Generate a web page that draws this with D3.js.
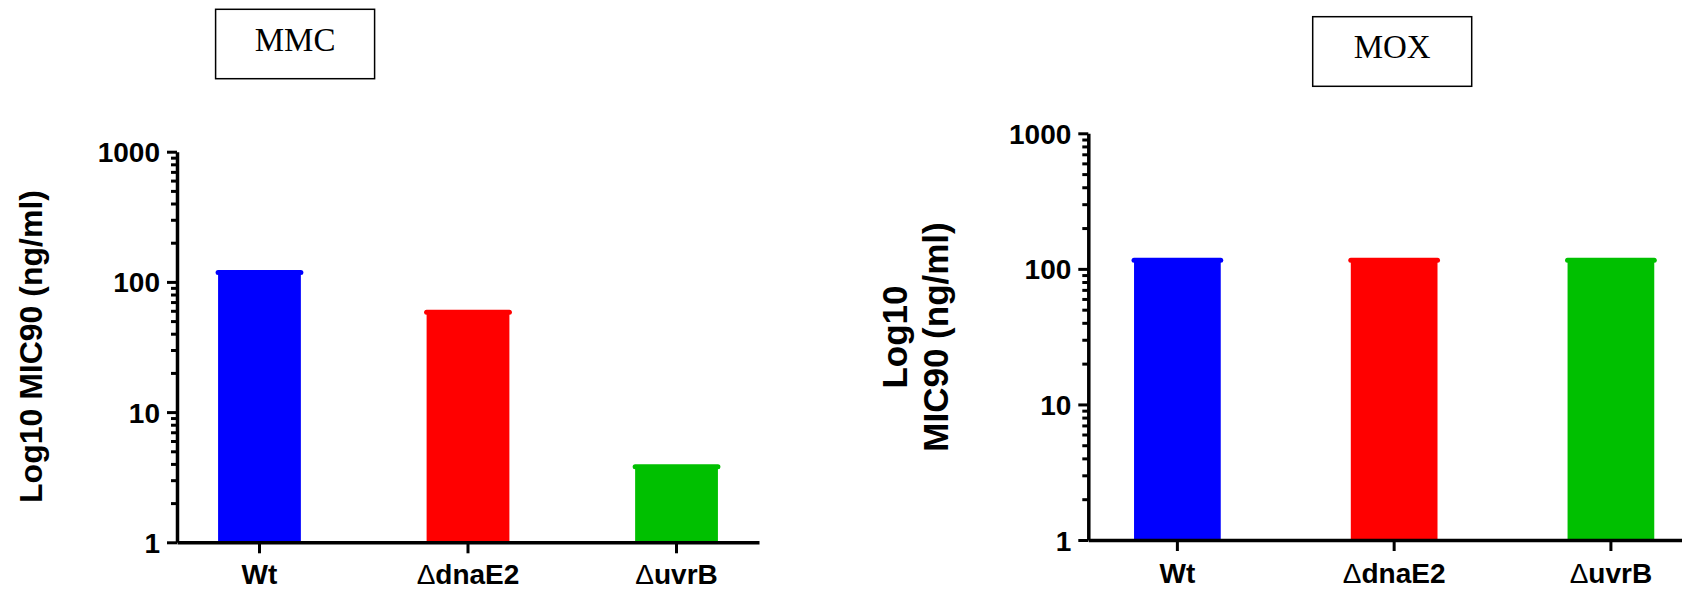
<!DOCTYPE html>
<html>
<head>
<meta charset="utf-8">
<script src="https://cdn.jsdelivr.net/npm/d3@7"></script>
<style>
  html, body { margin: 0; padding: 0; background: #fff; }
  svg { display: block; }
</style>
</head>
<body>
<svg id="chart" width="1682" height="591"></svg>
<script>
// ---- data ----
const categories = ["Wt", "dnaE2", "uvrB"];
const deltaPrefix = [false, true, true];
const mmcValues = [118, 58.5, 3.8];
const moxValues = [116, 116, 116];
const barColors = ["#0000ff", "#ff0000", "#00c000"];
const yTickValues = [1, 10, 100, 1000];
const panelTitles = ["MMC", "MOX"];
const yTitleLeft = ["Log10 MIC90 (ng/ml)"];
const yTitleRight = ["Log10", "MIC90 (ng/ml)"];

const SANS = "'Liberation Sans', Arial, sans-serif";
const SERIF = "'Liberation Serif', 'Times New Roman', serif";
const svg = d3.select("#chart");

function drawPanel(cfg) {
  const g = svg.append("g");
  const y = d3.scaleLog().domain([1, 1000]).range([cfg.yBottom, cfg.yTop]);
  const x = d3.scaleBand().domain(categories).range([cfg.xLeft, cfg.xRight])
    .paddingInner(cfg.pi).paddingOuter(cfg.po);

  // bars
  const bars = g.append("g");
  bars.selectAll("rect").data(cfg.values).join("rect")
    .attr("x", (d, i) => x(categories[i]))
    .attr("width", x.bandwidth())
    .attr("y", d => y(d))
    .attr("height", d => y(1) - y(d))
    .attr("fill", (d, i) => barColors[i]);
  bars.selectAll("line").data(cfg.values).join("line")
    .attr("x1", (d, i) => x(categories[i]))
    .attr("x2", (d, i) => x(categories[i]) + x.bandwidth())
    .attr("y1", d => y(d)).attr("y2", d => y(d))
    .attr("stroke", (d, i) => barColors[i])
    .attr("stroke-width", 5)
    .attr("stroke-linecap", "round");

  // minor y ticks
  const minor = y.ticks().filter(t => !yTickValues.includes(t));
  const gMinor = g.append("g").attr("transform", `translate(${cfg.xLeft},0)`)
    .call(d3.axisLeft(y).tickValues(minor).tickSize(6).tickSizeOuter(0).tickFormat(""));
  gMinor.select(".domain").remove();
  gMinor.selectAll(".tick line").attr("stroke", "#000").attr("stroke-width", 3);

  // major y ticks
  const gY = g.append("g").attr("transform", `translate(${cfg.xLeft},0)`)
    .call(d3.axisLeft(y).tickValues(yTickValues).tickSize(10).tickSizeOuter(0)
      .tickPadding(7).tickFormat(d3.format("d")));
  gY.select(".domain").attr("stroke", "#000").attr("stroke-width", 3.5);
  gY.selectAll(".tick line").attr("stroke", "#000").attr("stroke-width", 3);
  gY.selectAll(".tick text")
    .style("font-family", SANS)
    .style("font-size", "28px").style("font-weight", "bold").attr("fill", "#000")
    .attr("dy", "0.36em");

  // x axis
  const gX = g.append("g").attr("transform", `translate(0,${cfg.yBottom})`)
    .call(d3.axisBottom(x).tickSize(11).tickSizeOuter(0).tickFormat(""));
  gX.select(".domain").attr("stroke", "#000").attr("stroke-width", 3.5);
  gX.selectAll(".tick line").attr("stroke", "#000").attr("stroke-width", 3);

  // x labels
  const lbl = g.append("g").selectAll("text").data(categories).join("text")
    .attr("x", d => x(d) + x.bandwidth() / 2)
    .attr("y", cfg.xLabelBaseline)
    .attr("text-anchor", "middle")
    .style("font-family", SANS)
    .style("font-size", "28px").style("font-weight", "bold").attr("fill", "#000");
  lbl.each(function (d, i) {
    const t = d3.select(this);
    if (deltaPrefix[i]) t.append("tspan").style("font-weight", "normal").text("\u0394");
    t.append("tspan").text(d);
  });

  // y title
  const yt = g.append("text")
    .attr("transform", `translate(${cfg.yTitleX},${cfg.yTitleY}) rotate(-90)`)
    .attr("text-anchor", "middle")
    .style("font-family", SANS)
    .style("font-size", cfg.yTitleSize + "px").style("font-weight", "bold").attr("fill", "#000");
  cfg.yTitle.forEach((line, i) => {
    yt.append("tspan").attr("x", 0).attr("y", i * cfg.yTitleLineGap).text(line);
  });

  // title box
  g.append("rect")
    .attr("x", cfg.box[0]).attr("y", cfg.box[1])
    .attr("width", cfg.box[2]).attr("height", cfg.box[3])
    .attr("fill", "#fff").attr("stroke", "#000").attr("stroke-width", 1.5);
  g.append("text")
    .attr("x", cfg.box[0] + cfg.box[2] / 2)
    .attr("y", cfg.titleBaseline)
    .attr("text-anchor", "middle")
    .style("font-family", SERIF)
    .style("font-size", "33px").attr("fill", "#000")
    .text(cfg.title);
}

drawPanel({
  values: mmcValues,
  xLeft: 177, xRight: 759, pi: 0.603, po: 0.197,
  yBottom: 542.3, yTop: 151.7,
  xLabelBaseline: 584,
  yTitle: yTitleLeft, yTitleX: 42, yTitleY: 346.5, yTitleSize: 32, yTitleLineGap: 0,
  box: [215.6, 9.3, 159, 69.4], titleBaseline: 50.7, title: panelTitles[0]
});

drawPanel({
  values: moxValues,
  xLeft: 1088.3, xRight: 1700, pi: 0.600, po: 0.211,
  yBottom: 540, yTop: 133.3,
  xLabelBaseline: 583.3,
  yTitle: yTitleRight, yTitleX: 906.7, yTitleY: 337, yTitleSize: 35, yTitleLineGap: 41,
  box: [1312.7, 16.7, 159, 69.6], titleBaseline: 58.3, title: panelTitles[1]
});
</script>
</body>
</html>
